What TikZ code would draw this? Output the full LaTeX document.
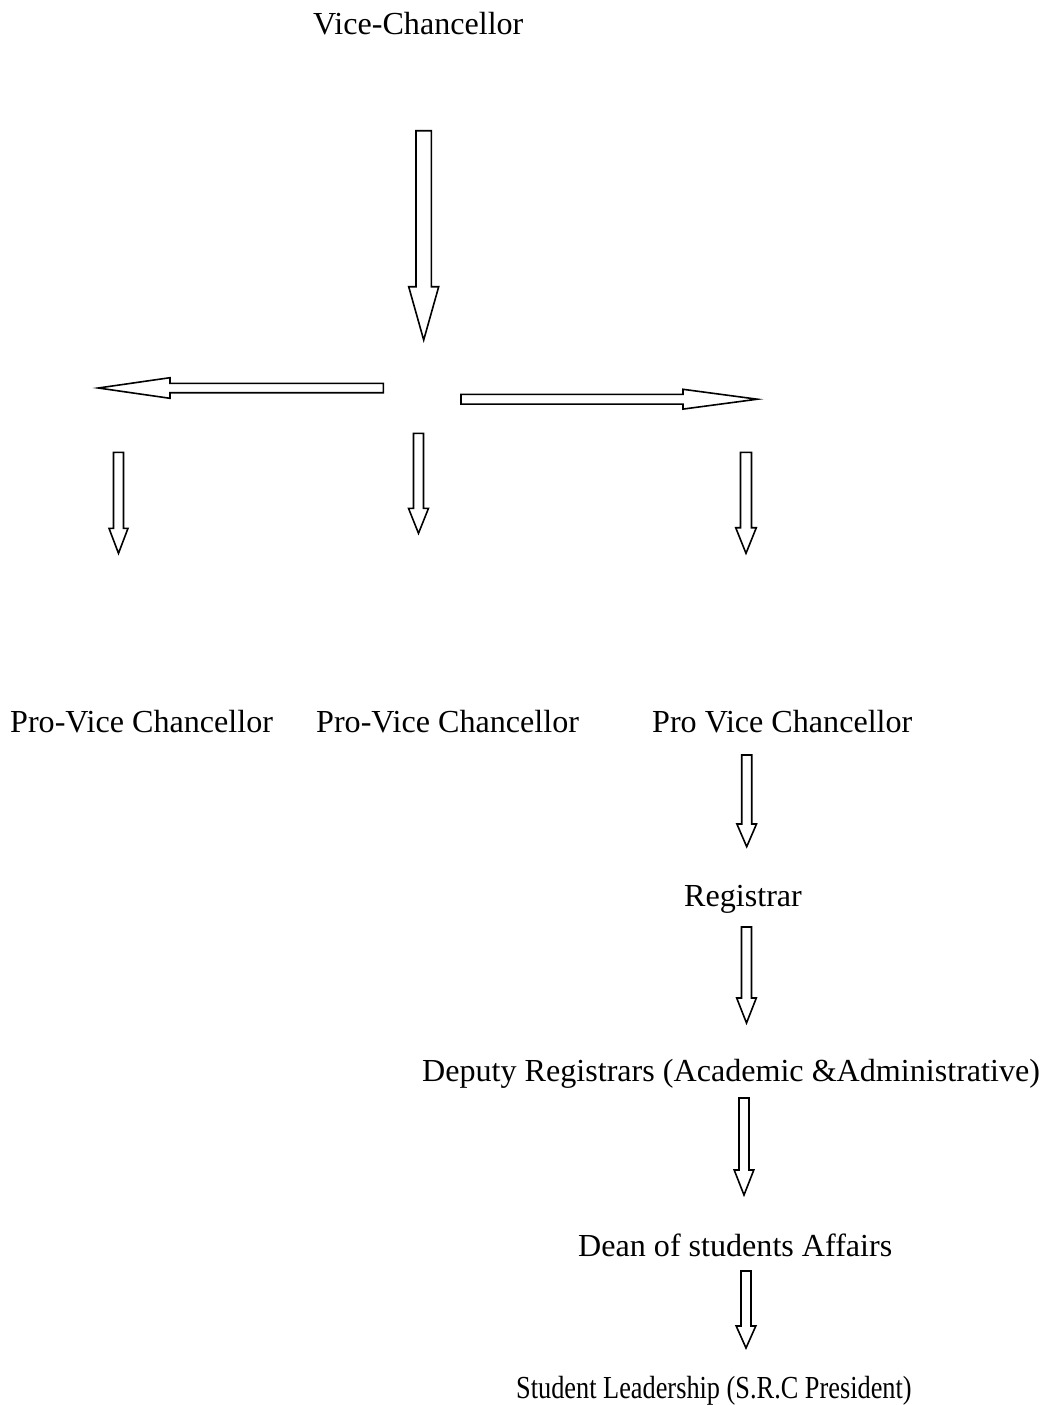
\documentclass[tikz,border=0pt]{standalone}
\usepackage{fontspec}
\setmainfont{Liberation Serif}
\newcommand{\vblockarrow}[6]{% cx, top, headbase, tip, shaft half width, head half width
  \draw[blockarrow] ({#1-#5},#2) -- ({#1+#5},#2) -- ({#1+#5},#3) -- ({#1+#6},#3) -- (#1,#4) -- ({#1-#6},#3) -- ({#1-#5},#3) -- cycle;}
\newcommand{\hblockarrow}[6]{% cy, tail x, headbase x, tip x, shaft half width, head half width
  \draw[blockarrow] (#2,{#1-#5}) -- (#3,{#1-#5}) -- (#3,{#1-#6}) -- (#4,#1) -- (#3,{#1+#6}) -- (#3,{#1+#5}) -- (#2,{#1+#5}) -- cycle;}
\begin{document}
\begin{tikzpicture}[x=1pt,y=-1pt,
  lbl/.style={anchor=base west,inner sep=0pt,font=\fontsize{32.1}{36}\selectfont},
  blockarrow/.style={draw=black,line width=1.6pt,fill=white,line join=miter}]
\useasboundingbox (0,0) rectangle (1048,1405);
\node[lbl] (vc) at (313,35) {Vice-Chancellor};
\node[lbl] (pvc1) at (10,732.5) {Pro-Vice Chancellor};
\node[lbl] (pvc2) at (316,732.5) {Pro-Vice Chancellor};
\node[lbl] (pvc3) at (652,732.5) {Pro Vice Chancellor};
\node[lbl] (reg) at (684,906.5) {Registrar};
\node[lbl] (dep) at (422,1081.5) {Deputy Registrars (Academic \&Administrative)};
\node[lbl] (dean) at (578,1256.5) {Dean of students Affairs};
\node[lbl,xscale=0.82] (src) at (516,1398.5) {Student Leadership (S.R.C President)};
% big down arrow
\vblockarrow{423.7}{130.7}{286.7}{340}{7.7}{15}
% horizontal arrows
\hblockarrow{388}{383.3}{170}{98.3}{4.7}{10.3}
\hblockarrow{399.2}{461}{683}{757.3}{4.9}{9.9}
% short down arrows
\vblockarrow{118.5}{452.3}{528.3}{553.3}{5}{9.5}
\vblockarrow{418.5}{433.3}{508.3}{533.3}{5}{10}
\vblockarrow{746}{452.3}{527.7}{553.3}{5.5}{10.3}
% chain down arrows
\vblockarrow{746.7}{755}{824}{846.7}{5}{9.8}
\vblockarrow{746.5}{927}{998}{1023}{5}{9.8}
\vblockarrow{744}{1098}{1170}{1195}{5}{9.8}
\vblockarrow{746}{1271}{1326}{1348}{5}{9.8}
\end{tikzpicture}
\end{document}
